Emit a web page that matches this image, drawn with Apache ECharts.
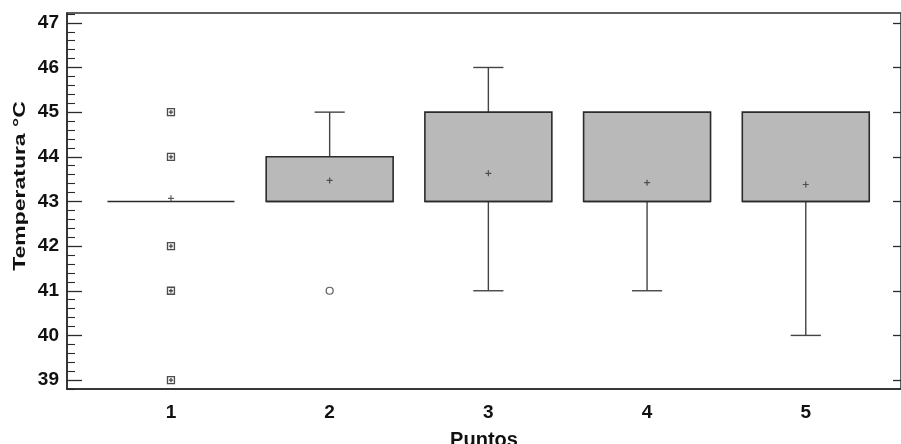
<!DOCTYPE html>
<html>
<head>
<meta charset="utf-8">
<script src="https://cdn.jsdelivr.net/npm/echarts@6/dist/echarts.min.js"></script>
<style>
  html, body { margin: 0; padding: 0; background: #ffffff; }
  #chart { width: 901px; height: 444px; }
</style>
</head>
<body>
<div id="chart"></div>
<script>
// Temperature distribution per sampling point (box-and-whisker summary)
const puntos       = [1, 2, 3, 4, 5];
const whiskerLow   = [43, 43, 41, 41, 40];
const cuartil1     = [43, 43, 43, 43, 43];
const mediana      = [43, 43, 43, 43, 43];
const cuartil3     = [43, 44, 45, 45, 45];
const whiskerHigh  = [43, 45, 46, 45, 45];
const medias       = [43.07, 43.47, 43.63, 43.42, 43.38];

// points flagged outside the whiskers
const atipicosLejanos = [[1, 45], [1, 44], [1, 42], [1, 41], [1, 39]];
const atipicos        = [[2, 41]];

const yTicks = [39, 40, 41, 42, 43, 44, 45, 46, 47];
const yMinorTicks = [];
for (let v = 38.8; v <= 47.21; v += 0.2) {
  const r = Math.round(v * 10) / 10;
  if (Math.abs(r - Math.round(r)) > 0.01) yMinorTicks.push(r);
}

const BOX_W = 0.8;   // box width in axis units
const CAP_W = 0.19;  // whisker cap width in axis units
const INK = '#2b2b2b';
const FONT = 'Liberation Sans, Arial, sans-serif';

const boxData = puntos.map((p, i) => [p, whiskerLow[i], cuartil1[i], mediana[i], cuartil3[i], whiskerHigh[i]]);

function renderBox(params, api) {
  const x = api.value(0);
  const lo = api.coord([x, api.value(1)]);
  const q1 = api.coord([x, api.value(2)]);
  const md = api.coord([x, api.value(3)]);
  const q3 = api.coord([x, api.value(4)]);
  const hi = api.coord([x, api.value(5)]);
  const halfW = api.size([BOX_W, 0])[0] / 2;
  const halfCap = api.size([CAP_W, 0])[0] / 2;
  const cx = q1[0];
  const lineStyle = { stroke: '#444', lineWidth: 1.4 };
  const children = [];
  if (hi[1] < q3[1] - 0.5) {
    children.push({ type: 'line', shape: { x1: cx, y1: q3[1], x2: cx, y2: hi[1] }, style: lineStyle });
    children.push({ type: 'line', shape: { x1: cx - halfCap, y1: hi[1], x2: cx + halfCap, y2: hi[1] }, style: lineStyle });
  }
  if (lo[1] > q1[1] + 0.5) {
    children.push({ type: 'line', shape: { x1: cx, y1: q1[1], x2: cx, y2: lo[1] }, style: lineStyle });
    children.push({ type: 'line', shape: { x1: cx - halfCap, y1: lo[1], x2: cx + halfCap, y2: lo[1] }, style: lineStyle });
  }
  const h = q1[1] - q3[1];
  if (h > 0.5) {
    children.push({
      type: 'rect',
      shape: { x: cx - halfW, y: q3[1], width: halfW * 2, height: h },
      style: { fill: '#b9b9b9', stroke: INK, lineWidth: 1.6 }
    });
  }
  children.push({ type: 'line', shape: { x1: cx - halfW, y1: md[1], x2: cx + halfW, y2: md[1] }, style: { stroke: INK, lineWidth: 1.6 } });
  return { type: 'group', children };
}

const chart = echarts.init(document.getElementById('chart'), null, { renderer: 'canvas' });

const labelFont = { fontFamily: FONT, fontWeight: 'bold', color: '#111' };

chart.setOption({
  animation: false,
  backgroundColor: '#ffffff',
  grid: {
    left: 67, right: 0, top: 13, bottom: 55,
    outerBoundsMode: 'none',
    show: true, borderColor: INK, borderWidth: 1.5, backgroundColor: 'transparent'
  },
  graphic: [
    {
      // y-axis title, slightly widened along its reading direction
      type: 'text',
      x: 20, y: 186,
      rotation: Math.PI / 2,
      scaleX: 1.35,
      style: {
        text: 'Temperatura °C',
        font: 'bold 17px ' + FONT,
        fill: '#111',
        align: 'center',
        verticalAlign: 'middle'
      }
    }
  ],
  xAxis: {
    type: 'value', min: 0.345, max: 5.6,
    name: 'Puntos', nameLocation: 'middle', nameGap: 41,
    nameTextStyle: Object.assign({ fontSize: 20 }, labelFont),
    axisLine: { show: true, lineStyle: { color: INK, width: 1.5 } },
    axisTick: { show: false },
    splitLine: { show: false },
    axisLabel: Object.assign({ customValues: puntos, fontSize: 19, margin: 14, formatter: v => String(v) }, labelFont)
  },
  yAxis: [
    {
      type: 'value', min: 38.8, max: 47.22, position: 'left',
      axisLine: { show: true, lineStyle: { color: INK, width: 1.5 } },
      axisTick: { show: true, inside: true, length: 15, customValues: yTicks, lineStyle: { color: INK, width: 1.3 } },
      axisLabel: Object.assign({ customValues: yTicks, fontSize: 19, margin: 8, formatter: v => String(v) }, labelFont),
      splitLine: { show: false }
    },
    {
      type: 'value', min: 38.8, max: 47.22, position: 'left', offset: 0,
      axisLine: { show: false },
      axisTick: { show: true, inside: true, length: 8, customValues: yMinorTicks, lineStyle: { color: INK, width: 1.1 } },
      axisLabel: { show: false },
      splitLine: { show: false }
    },
    {
      type: 'value', min: 38.8, max: 47.22, position: 'right',
      axisLine: { show: false },
      axisTick: { show: true, inside: true, length: 8, customValues: yTicks, lineStyle: { color: INK, width: 1.3 } },
      axisLabel: { show: false },
      splitLine: { show: false }
    }
  ],
  series: [
    {
      type: 'custom', name: 'caja', yAxisIndex: 0,
      renderItem: renderBox,
      encode: { x: 0, y: [1, 2, 3, 4, 5] },
      data: boxData,
      z: 2
    },
    {
      type: 'scatter', name: 'media', yAxisIndex: 0,
      data: puntos.map((p, i) => [p, medias[i]]),
      symbol: 'path://M0,5L10,5M5,0L5,10',
      symbolSize: 6,
      itemStyle: { color: 'none', borderColor: '#333', borderWidth: 1.2 },
      z: 3
    },
    {
      type: 'scatter', name: 'atípicos lejanos', yAxisIndex: 0,
      data: atipicosLejanos,
      symbol: 'path://M0,0L10,0L10,10L0,10Z M5,2L5,8 M2,5L8,5',
      symbolSize: 7,
      itemStyle: { color: '#f0f0f0', borderColor: '#222', borderWidth: 1.3 },
      z: 3
    },
    {
      type: 'scatter', name: 'atípicos', yAxisIndex: 0,
      data: atipicos,
      symbol: 'circle',
      symbolSize: 7,
      itemStyle: { color: '#ffffff', borderColor: '#333', borderWidth: 1.2 },
      z: 3
    }
  ]
});
</script>
</body>
</html>
